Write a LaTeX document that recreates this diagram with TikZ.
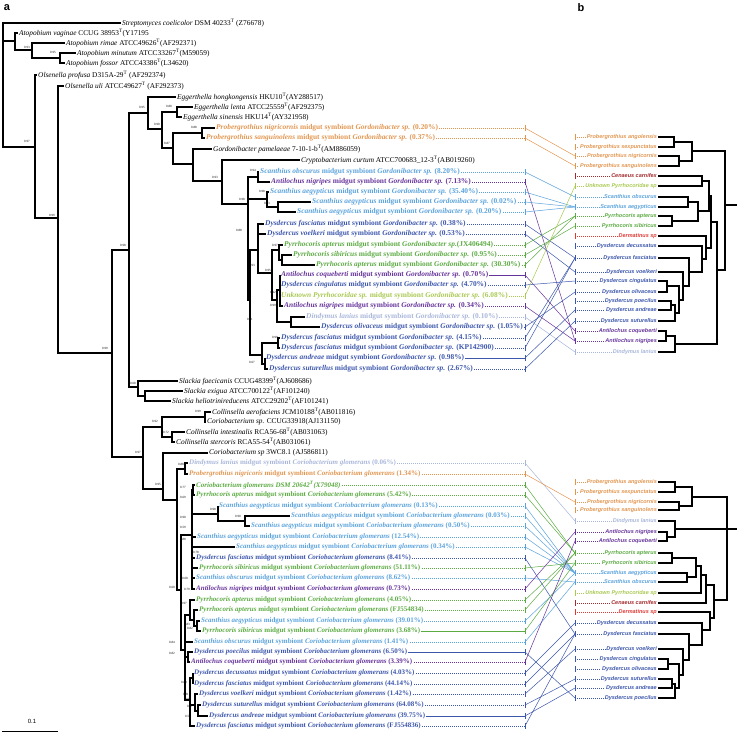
\documentclass[tikz,border=0pt]{standalone}
\usepackage{fontspec}
\setmainfont{Liberation Serif}
\setsansfont{Liberation Sans}
\usepackage{xcolor}
\usepackage{tikz}
\definecolor{cborange}{HTML}{E2954F}
\definecolor{cblblue}{HTML}{5AA2DC}
\definecolor{cbpurple}{HTML}{66339A}
\definecolor{cbblue}{HTML}{3C56AC}
\definecolor{cbgreen}{HTML}{5BAA42}
\definecolor{cbygreen}{HTML}{A8C850}
\definecolor{cbgrey}{HTML}{A8B6DA}
\definecolor{cbdred}{HTML}{A2292C}
\definecolor{cbred}{HTML}{DD3934}
\newcommand{\tp}{\textsuperscript{T}}
\newcommand{\gord}[2]{\textit{#1} midgut symbiont \textit{Gordonibacter sp.} (#2)}
\newcommand{\corio}[2]{\textit{#1} midgut symbiont \textit{Coriobacterium glomerans} (#2)}

\begin{document}
\begin{tikzpicture}[x=1pt, y=-1pt,
  tip/.style={anchor=west, inner sep=1pt, font=\fontsize{7.35}{8}\selectfont},
  sym/.style={tip, font=\fontsize{7.4}{8}\selectfont\bfseries},
  csym/.style={tip, font=\fontsize{7}{8}\selectfont\bfseries},
  bleaf/.style={anchor=east, inner sep=1pt, font=\fontsize{5.5}{6}\sffamily\bfseries\itshape},
  branch/.style={line width=1.6pt},
  bbranch/.style={line width=1.2pt},
  boot/.style={inner sep=0pt, font=\fontsize{3.2}{3.2}\selectfont},
  leader/.style={line width=0.4pt, dash pattern=on 1.2pt off 0.8pt},
  link/.style={line width=0.5pt}]
  % page frame in pixels of the reference, y runs downward
  \useasboundingbox (0,0) rectangle (738,735);
  \node[font=\sffamily\bfseries\fontsize{11}{11}\selectfont] (ta) at (7,8) {a};
  \node[font=\sffamily\bfseries\fontsize{11}{11}\selectfont] (tb) at (581,8) {b};
  \coordinate (tickL) at (525,0);
  \coordinate (tickR) at (575,0);

  % ---------------- tree a: leaves ----------------
  \node[tip] (a1) at (121,23) {\textit{Streptomyces coelicolor} DSM 40233\tp{} (Z76678)};
  \node[tip] (a2) at (18,33) {\textit{Atopobium vaginae} CCUG 38953\tp(Y17195};
  \node[tip] (a3) at (65,43) {\textit{Atopobium rimae} ATCC49626\tp(AF292371)};
  \node[tip] (a4) at (76,53) {\textit{Atopobium minutum} ATCC33267\tp(M59059)};
  \node[tip] (a5) at (65,63) {\textit{Atopobium fossor} ATCC43386\tp(L34620)};
  \node[tip] (a6) at (37,75) {\textit{Olsenella profusa} D315A-29\tp{} (AF292374)};
  \node[tip] (a7) at (64,86) {\textit{Olsenella uli} ATCC49627\tp{} (AF292373)};
  \node[tip] (a8) at (176,97) {\textit{Eggerthella hongkongensis} HKU10\tp(AY288517)};
  \node[tip] (a9) at (193,107) {\textit{Eggerthella lenta} ATCC25559\tp(AF292375)};
  \node[tip] (a10) at (182,117) {\textit{Eggerthella sinensis} HKU14\tp(AY321958)};
  \node[sym, text=cborange] (a11) at (215,128) {\gord{Probergrothius nigricornis}{0.20\%}};
  \node[sym, text=cborange] (a12) at (205,138) {\gord{Probergrothius sanguinolens}{0.37\%}};
  \node[tip] (a13) at (212,149) {\textit{Gordonibacter pamelaeae} 7-10-1-b\tp(AM886059)};
  \node[tip] (a14) at (300,160) {\textit{Cryptobacterium curtum} ATCC700683\_12-3\tp(AB019260)};
  \node[sym, text=cblblue] (a15) at (259,172) {\gord{Scanthius obscurus}{8.20\%}};
  \node[sym, text=cbpurple] (a16) at (270,182) {\gord{Antilochus nigripes}{7.13\%}};
  \node[sym, text=cblblue] (a17) at (269,192) {\gord{Scanthius aegypticus}{35.40\%}};
  \node[sym, text=cblblue] (a18) at (311,202) {\gord{Scanthius aegypticus}{0.02\%}};
  \node[sym, text=cblblue] (a19) at (296,212) {\gord{Scanthius aegypticus}{0.20\%}};
  \node[sym, text=cbblue] (a20) at (264,224) {\gord{Dysdercus fasciatus}{0.38\%}};
  \node[sym, text=cbblue] (a21) at (266,234) {\gord{Dysdercus voelkeri}{0.53\%}};
  \node[sym, text=cbgreen] (a22) at (283,245) {\textit{Pyrrhocoris apterus} midgut symbiont \textit{Gordonibacter sp.}(JX406494)};
  \node[sym, text=cbgreen] (a23) at (292,255) {\gord{Pyrrhocoris sibiricus}{0.95\%}};
  \node[sym, text=cbgreen] (a24) at (315,265) {\gord{Pyrrhocoris apterus}{30.30\%}};
  \node[sym, text=cbpurple] (a25) at (280,275) {\gord{Antilochus coqueberti}{0.70\%}};
  \node[sym, text=cbblue] (a26) at (280,285) {\gord{Dysdercus cingulatus}{4.70\%}};
  \node[sym, text=cbygreen] (a27) at (280,296) {\textit{Unknown Pyrrhocoridae sp.} midgut symbiont \textit{Gordonibacter sp.} (6.08\%)};
  \node[sym, text=cbpurple] (a28) at (283,306) {\gord{Antilochus nigripes}{0.34\%}};
  \node[sym, text=cbgrey] (a29) at (305,317) {\gord{Dindymus lanius}{0.10\%}};
  \node[sym, text=cbblue] (a30) at (320,327) {\gord{Dysdercus olivaceus}{1.05\%}};
  \node[sym, text=cbblue] (a31) at (280,338) {\gord{Dysdercus fasciatus}{4.15\%}};
  \node[sym, text=cbblue] (a32) at (280,348) {\gord{Dysdercus fasciatus}{KP142900}};
  \node[sym, text=cbblue] (a33) at (265,358) {\gord{Dysdercus andreae}{0.98\%}};
  \node[sym, text=cbblue] (a34) at (268,369) {\gord{Dysdercus suturellus}{2.67\%}};
  \node[tip] (a35) at (178,381) {\textit{Slackia faecicanis} CCUG48399\tp(AJ608686)};
  \node[tip] (a36) at (183,391) {\textit{Slackia exigua} ATCC700122\tp(AF101240)};
  \node[tip] (a37) at (171,401) {\textit{Slackia heliotrinireducens} ATCC29202\tp(AF101241)};
  \node[tip] (a38) at (211,412) {\textit{Collinsella aerofaciens} JCM10188\tp(AB011816)};
  \node[tip] (a39) at (206,422) {\textit{Coriobacterium sp.} CCUG33918(AJ131150)};
  \node[tip] (a40) at (185,432) {\textit{Collinsella intestinalis} RCA56-68\tp(AB031063)};
  \node[tip] (a41) at (175,442) {\textit{Collinsella stercoris} RCA55-54\tp(AB031061)};
  \node[tip] (a42) at (208,453) {\textit{Coriobacterium sp} 3WC8.1 (AJ586811)};
  \node[csym, text=cbgrey] (a43) at (188,463) {\corio{Dindymus lanius}{0.06\%}};
  \node[csym, text=cborange] (a44) at (188,474) {\corio{Probergrothius nigricoris}{1.34\%}};
  \node[csym, text=cbgreen] (a45) at (195,485) {\textit{Coriobacterium glomerans DSM 20642\tp(X79048)}};
  \node[csym, text=cbgreen] (a46) at (195,495) {\corio{Pyrrhocoris apterus}{5.42\%}};
  \node[csym, text=cblblue] (a47) at (218,506) {\corio{Scanthius aegypticus}{0.13\%}};
  \node[csym, text=cblblue] (a48) at (290,516) {\corio{Scanthius aegypticus}{0.03\%}};
  \node[csym, text=cblblue] (a49) at (250,526) {\corio{Scanthius aegypticus}{0.50\%}};
  \node[csym, text=cblblue] (a50) at (196,537) {\corio{Scanthius aegypticus}{12.54\%}};
  \node[csym, text=cblblue] (a51) at (235,547) {\corio{Scanthius aegypticus}{0.34\%}};
  \node[csym, text=cbblue] (a52) at (195,558) {\corio{Dysdercus fasciatus}{8.41\%}};
  \node[csym, text=cbgreen] (a53) at (198,568) {\corio{Pyrrhocoris sibiricus}{51.11\%}};
  \node[csym, text=cblblue] (a54) at (195,578) {\corio{Scanthius obscurus}{8.62\%}};
  \node[csym, text=cbpurple] (a55) at (195,589) {\corio{Antilochus nigripes}{0.73\%}};
  \node[csym, text=cbgreen] (a56) at (195,600) {\corio{Pyrrhocoris apterus}{4.05\%}};
  \node[csym, text=cbgreen] (a57) at (198,610) {\corio{Pyrrhocoris apterus}{FJ554834}};
  \node[csym, text=cblblue] (a58) at (200,621) {\corio{Scanthius aegypticus}{39.01\%}};
  \node[csym, text=cbgreen] (a59) at (201,631) {\corio{Pyrrhocoris sibiricus}{3.68\%}};
  \node[csym, text=cblblue] (a60) at (193,642) {\corio{Scanthius obscurus}{1.41\%}};
  \node[csym, text=cbblue] (a61) at (193,652) {\corio{Dysdercus poecilus}{6.50\%}};
  \node[csym, text=cbpurple] (a62) at (190,662) {\corio{Antilochus coqueberti}{3.39\%}};
  \node[csym, text=cbblue] (a63) at (193,673) {\corio{Dysdercus decussatus}{4.03\%}};
  \node[csym, text=cbblue] (a64) at (193,684) {\corio{Dysdercus fasciatus}{44.14\%}};
  \node[csym, text=cbblue] (a65) at (198,694) {\corio{Dysdercus voelkeri}{1.42\%}};
  \node[csym, text=cbblue] (a66) at (201,705) {\corio{Dysdercus suturellus}{64.08\%}};
  \node[csym, text=cbblue] (a67) at (208,716) {\corio{Dysdercus andreae}{39.75\%}};
  \node[csym, text=cbblue] (a68) at (195,726) {\corio{Dysdercus fasciatus}{FJ554836}};

  % ---------------- tree a: inner nodes ----------------
  \foreach \n/\x/\y in {R/3/85, At/15/41, At2/32/50, At3/60/58, N1/35/147, N2/58/218,
      N3/112/353, N4/129/250, E/148/113, Eg/177/112, E2/162/129, Pr/202/133,
      E3/173/148, E4/193/164, E5/222/181, E6/248/204, E7/258/177, ScA/267/199,
      ScB/278/207, G1/250/300, G2/258/250, G3/272/273, Py1/279/250, Py2/282/260,
      G4/277/300, A1/280/290, Di/291/322, G9/262/355, DFF/278/343, G10/265/364,
      Sl/138/387, Sl2/145/396, N5/143/457, Co/162/427, Co1/205/417, Co2/172/437,
      B0/163/489, B1/177/500, DP/185/469, B2/181/590, B3/192/535, CG/193/490,
      ScX/218/514, ScY/245/521, B4/185/650, PA/190/615, PA2/194/620, PA3/197/626,
      PD/188/657, DD/190/700, DD1/193/678, DD2/195/705, DD3/198/711}
    \coordinate (\n) at (\x,\y);

  % ---------------- tree a: branches ----------------
  \foreach \p/\c in {R/a1.west, R/At, R/N1, At/a2.west, At/At2, At2/a3.west, At2/At3,
      At3/a4.west, At3/a5.west, N1/a6.west, N1/N2, N2/a7.west, N2/N3, N3/N4, N3/N5,
      N4/E, N4/Sl, E/a8.west, E/E2, E2/Eg, E2/E3, Eg/a9.west, Eg/a10.west,
      E3/Pr, E3/E4, Pr/a11.west, Pr/a12.west, E4/a13.west, E4/E5, E5/a14.west, E5/E6,
      E6/E7, E6/ScA, E6/G1, E7/a15.west, E7/a16.west, ScA/a17.west, ScA/ScB,
      ScB/a18.west, ScB/a19.west, G1/G2, G1/G9, G2/a20.west, G2/a21.west, G2/G3,
      G3/Py1, G3/G4, Py1/a22.west, Py1/Py2, Py2/a23.west, Py2/a24.west, G4/A1, G4/Di,
      A1/a25.west, A1/a26.west, A1/a27.west, A1/a28.west, Di/a29.west, Di/a30.west,
      G9/DFF, G9/G10, DFF/a31.west, DFF/a32.west, G10/a33.west, G10/a34.west,
      Sl/a35.west, Sl/Sl2, Sl2/a36.west, Sl2/a37.west, N5/Co, N5/B0, Co/Co1, Co/Co2,
      Co1/a38.west, Co1/a39.west, Co2/a40.west, Co2/a41.west, B0/a42.west, B0/B1,
      B1/DP, B1/B2, DP/a43.west, DP/a44.west, B2/B3, B2/B4, B3/CG, B3/ScX,
      B3/a50.west, B3/a51.west, B3/a52.west, B3/a53.west, B3/a54.west, B3/a55.west,
      CG/a45.west, CG/a46.west, ScX/a47.west, ScX/ScY, ScY/a48.west, ScY/a49.west,
      B4/PA, B4/a60.west, B4/PD, B4/DD, PA/a56.west, PA/PA2, PA2/a57.west, PA2/PA3,
      PA3/a58.west, PA3/a59.west, PD/a61.west, PD/a62.west, DD/DD1, DD/DD2, DD/a68.west,
      DD1/a63.west, DD1/a64.west, DD2/a65.west, DD2/DD3, DD3/a66.west, DD3/a67.west}
    \draw[branch] (\p) |- (\c);

  % support values
  \foreach \x/\y/\v [count=\i] in {27/47/0.93, 53/52/0.95, 27/141/0.97, 52/215/0.99,
      105/348/0.99, 123/245/0.98, 142/107/0.95, 169/106/0.80, 157/124/0.90, 194/127/0.88,
      167/143/0.87, 215/177/0.93, 242/199/0.98, 253/170/0.94, 262/191/0.98, 267/203/0.93,
      239/230/0.88, 275/245/0.97, 252/265/0.93, 268/270/0.95, 273/292/0.92, 273/305/0.99,
      250/319/0.81, 275/337/0.99, 252/362/0.67, 133/383/0.68, 198/411/0.99, 155/421/0.92,
      166/432/0.72, 138/452/0.97, 158/484/0.95, 181/464/0.88, 183/487/0.77, 183/497/0.69,
      213/509/0.98, 238/516/0.90, 183/517/0.90, 183/527/0.59, 183/539/0.88, 196/552/0.78,
      185/578/0.68, 187/589/0.79, 172/587/0.60, 184/603/0.97, 187/624/0.83, 190/628/0.82,
      172/642/0.84, 172/653/0.82, 184/682/0.88, 186/694/0.81, 188/699/0.94, 190/706/0.87,
      188/716/0.57}
    \node[boot] (bs\i) at (\x,\y) {\v};

  % scale bar
  \coordinate (sbL) at (2,731);
  \coordinate (sbR) at (58,731);
  \draw[line width=0.9pt] (sbL) -- (sbR);
  \node[font=\sffamily\fontsize{6}{6}\selectfont] (sb) at (32,721) {0.1};

  % ---------------- tree b: leaves ----------------
  \foreach \n/\y/\c/\t in {bt1/137/cborange/Probergrothius angolensis,
      bt2/147/cborange/Probergrothius sexpunctatus, bt3/156/cborange/Probergrothius nigricornis,
      bt4/166/cborange/Probergrothius sanguinolens, bt5/176/cbdred/Cenaeus carnifex,
      bt6/186/cbygreen/Unknown Pyrrhocoridae sp, bt7/197/cblblue/Scanthius obscurus,
      bt8/207/cblblue/Scanthius aegypticus, bt9/216/cbgreen/Pyrrhocoris apterus,
      bt10/226/cbgreen/Pyrrhocoris sibiricus, bt11/236/cbred/Dermatinus sp,
      bt12/246/cbblue/Dysdercus decussatus, bt13/258/cbblue/Dysdercus fasciatus,
      bt14/272/cbblue/Dysdercus voelkeri, bt15/281/cbblue/Dysdercus cingulatus,
      bt16/292/cbblue/Dysdercus olivaceus, bt17/301/cbblue/Dysdercus poecilus,
      bt18/310/cbblue/Dysdercus andreae, bt19/321/cbblue/Dysdercus suturellus,
      bt20/331/cbpurple/Antilochus coqueberti, bt21/341/cbpurple/Antilochus nigripes,
      bt22/352/cbgrey/Dindymus lanius,
      bb1/482/cborange/Probergrothius angolensis, bb2/492/cborange/Probergrothius sexpunctatus,
      bb3/502/cborange/Probergrothius nigricornis, bb4/510/cborange/Probergrothius sanguinolens,
      bb5/521/cbgrey/Dindymus lanius, bb6/532/cbpurple/Antilochus nigripes,
      bb7/541/cbpurple/Antilochus coqueberti, bb8/553/cbgreen/Pyrrhocoris apterus,
      bb9/563/cbgreen/Pyrrhocoris sibiricus, bb10/573/cblblue/Scanthius aegypticus,
      bb11/582/cblblue/Scanthius obscurus, bb12/593/cbygreen/Unknown Pyrrhocoridae sp,
      bb13/603/cbdred/Cenaeus carnifex, bb14/612/cbred/Dermatinus sp,
      bb15/623/cbblue/Dysdercus decussatus, bb16/634/cbblue/Dysdercus fasciatus,
      bb17/649/cbblue/Dysdercus voelkeri, bb18/659/cbblue/Dysdercus cingulatus,
      bb19/669/cbblue/Dysdercus olivaceus, bb20/679/cbblue/Dysdercus suturellus,
      bb21/688/cbblue/Dysdercus andreae, bb22/698/cbblue/Dysdercus poecilus} {
    \node[bleaf, text=\c] (\n) at (658,\y) {\t};
    \draw[leader, \c] (\n.west -| tickR) -- (\n.west);
    \draw[link, \c] (\n.west -| tickR) ++(0,-3) -- ++(0,6);
  }

  % ---------------- tree b: inner nodes and branches ----------------
  \foreach \n/\x/\y in {Tr/725/205, TP/692/151, TP1/674/142, TP2/679/161, TR2/717/270,
      TCD/711/222, TC/709/196, TC12/702/181, TSPy/698/211, TS/688/202, TPy/672/221,
      TDD/706/248, TD1/702/259, TD2/689/272, TD3/683/286, TD48/679/300, TD45/667/286,
      TD678/675/313, TD67/671/305, TE/675/344, TE12/666/336,
      Br/727/529, BP/692/497, BP1/675/487, BP2/679/506, BA/675/529, BA12/667/537,
      BUD/714/600, BUC/706/585, BU/701/575, BPS/696/566, BPy/672/558, BS/687/577,
      BDD/710/618, BD1/702/630, BD2/689/645, BD3/683/660, BD48/679/675, BD45/668/664,
      BD678/675/688, BD67/672/684}
    \coordinate (\n) at (\x,\y);
  \coordinate (TrEnd) at (737,205);
  \coordinate (BrEnd) at (737,529);
  \draw[bbranch] (Tr) -- (TrEnd);
  \draw[bbranch] (Br) -- (BrEnd);
  \foreach \p/\c in {Tr/TP, Tr/TR2, TP/TP1, TP/TP2, TP1/bt1.east, TP1/bt2.east,
      TP2/bt3.east, TP2/bt4.east, TR2/TCD, TR2/TE, TCD/TC, TCD/TDD, TC/TC12, TC/TSPy,
      TC12/bt5.east, TC12/bt6.east, TSPy/TS, TSPy/TPy, TS/bt7.east, TS/bt8.east,
      TPy/bt9.east, TPy/bt10.east, TDD/bt11.east, TDD/TD1, TD1/bt12.east, TD1/TD2,
      TD2/bt13.east, TD2/TD3, TD3/bt14.east, TD3/TD48, TD48/TD45, TD48/TD678,
      TD45/bt15.east, TD45/bt16.east, TD678/TD67, TD678/bt19.east, TD67/bt17.east,
      TD67/bt18.east, TE/TE12, TE/bt22.east, TE12/bt20.east, TE12/bt21.east,
      Br/BP, Br/BA, Br/BUD, BP/BP1, BP/BP2, BP1/bb1.east, BP1/bb2.east, BP2/bb3.east,
      BP2/bb4.east, BA/bb5.east, BA/BA12, BA12/bb6.east, BA12/bb7.east, BUD/BUC,
      BUD/BDD, BUC/BU, BUC/bb13.east, BU/BPS, BU/bb12.east, BPS/BPy, BPS/BS,
      BPy/bb8.east, BPy/bb9.east, BS/bb10.east, BS/bb11.east, BDD/bb14.east, BDD/BD1,
      BD1/bb15.east, BD1/BD2, BD2/bb16.east, BD2/BD3, BD3/bb17.east, BD3/BD48,
      BD48/BD45, BD48/BD678, BD45/bb18.east, BD45/bb19.east, BD678/BD67,
      BD678/bb22.east, BD67/bb20.east, BD67/bb21.east}
    \draw[bbranch] (\p) |- (\c);

  % ---------------- links between the two trees ----------------
  \foreach \a/\b/\c in {a11/bt3/cborange, a12/bt4/cborange, a15/bt7/cblblue,
      a16/bt21/cbpurple, a17/bt8/cblblue, a18/bt8/cblblue, a19/bt8/cblblue,
      a20/bt13/cbblue, a21/bt14/cbblue, a22/bt9/cbgreen, a23/bt10/cbgreen,
      a24/bt9/cbgreen, a25/bt20/cbpurple, a26/bt15/cbblue, a27/bt6/cbygreen,
      a28/bt21/cbpurple, a29/bt22/cbgrey, a30/bt16/cbblue, a31/bt13/cbblue,
      a32/bt13/cbblue, a33/bt18/cbblue, a34/bt19/cbblue,
      a43/bb5/cbgrey, a44/bb3/cborange, a45/bb8/cbgreen, a46/bb8/cbgreen,
      a47/bb10/cblblue, a48/bb10/cblblue, a49/bb10/cblblue, a50/bb10/cblblue,
      a51/bb10/cblblue, a52/bb16/cbblue, a53/bb9/cbgreen, a54/bb11/cblblue,
      a55/bb6/cbpurple, a56/bb8/cbgreen, a57/bb8/cbgreen, a58/bb10/cblblue,
      a59/bb9/cbgreen, a60/bb11/cblblue, a61/bb22/cbblue, a62/bb7/cbpurple,
      a63/bb15/cbblue, a64/bb16/cbblue, a65/bb17/cbblue, a66/bb20/cbblue,
      a67/bb21/cbblue, a68/bb16/cbblue} {
    \draw[leader, \c] (\a.east) -- (\a.east -| tickL);
    \draw[link, \c] (\a.east -| tickL) ++(0,-3) -- ++(0,6);
    \draw[link, \c] (\a.east -| tickL) -- (\b.west -| tickR);
  }
\end{tikzpicture}
\end{document}
